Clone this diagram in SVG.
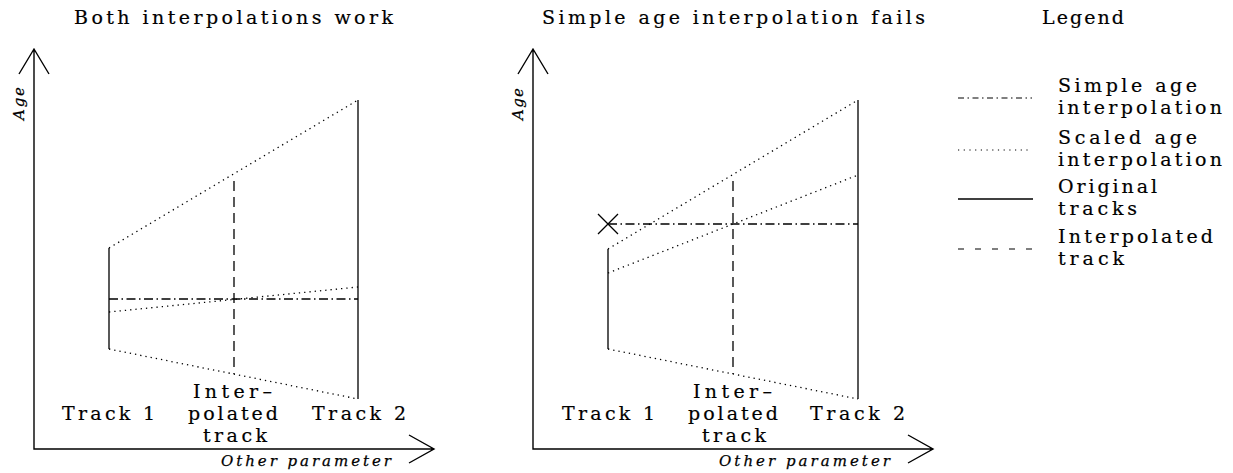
<svg xmlns="http://www.w3.org/2000/svg" width="1233" height="473" viewBox="0 0 1233 473">
<style>
.ax{fill:none;stroke:#000;stroke-width:1.4}
.solid{fill:none;stroke:#000;stroke-width:1.3}
.dot{fill:none;stroke:#000;stroke-width:1.3;stroke-dasharray:1.3 4}
.dash{fill:none;stroke:#000;stroke-width:1.3;stroke-dasharray:10 6}
.dd{fill:none;stroke:#000;stroke-width:1.3;stroke-dasharray:9 3.5 1.5 3.5}
.ldd{fill:none;stroke:#000;stroke-width:1.2;stroke-dasharray:6 3.5 1.5 3.5}
.ldot{fill:none;stroke:#000;stroke-width:1.2;stroke-dasharray:1.2 4.5}
.ldash{fill:none;stroke:#000;stroke-width:1.2;stroke-dasharray:6 11}
.t{font-family:"DejaVu Serif","Liberation Serif",serif;font-size:19px;fill:#000;stroke:#000;stroke-width:0.2}
.i{font-family:"DejaVu Serif","Liberation Serif",serif;font-style:italic;font-size:15px;fill:#000;stroke:#000;stroke-width:0.25}
</style>
<g id="panel1">
<path class="ax" d="M34 49 V449 H434 M19 74 L34 49 L49 74 M409 435 L434 449 L409 463"/>
<path class="solid" d="M109 248 V349 M358 100 V399"/>
<path class="dot" d="M109 248 L358 100 M109 349 L358 399 M109 312 L358 287"/>
<path class="dash" d="M234 181 V374"/>
<path class="dd" d="M109 299 H358"/>
<text class="t" x="74" y="24" textLength="319" lengthAdjust="spacing">Both interpolations work</text>
<text class="t" x="62" y="420" textLength="93" lengthAdjust="spacing">Track 1</text>
<text class="t" x="193" y="398" textLength="79" lengthAdjust="spacing">Inter–</text>
<text class="t" x="188" y="420" textLength="90" lengthAdjust="spacing">polated</text>
<text class="t" x="203" y="442" textLength="64" lengthAdjust="spacing">track</text>
<text class="t" x="312" y="420" textLength="94" lengthAdjust="spacing">Track 2</text>
<text class="i" transform="translate(24,120) rotate(-90)" textLength="33" lengthAdjust="spacing">Age</text>
<text class="i" x="221" y="466" textLength="170" lengthAdjust="spacing">Other parameter</text>
</g>
<g id="panel2">
<path class="ax" d="M533 49 V449 H933 M518 74 L533 49 L548 74 M908 435 L933 449 L908 463"/>
<path class="solid" d="M608 249 V349 M858 100 V399 M598 214 L618 234 M598 234 L618 214"/>
<path class="dot" d="M608 249 L858 100 M608 349 L858 399 M608 273 L858 175"/>
<path class="dash" d="M733 181 V374"/>
<path class="dd" d="M608 224 H858"/>
<text class="t" x="542" y="24" textLength="383" lengthAdjust="spacing">Simple age interpolation fails</text>
<text class="t" x="562" y="420" textLength="93" lengthAdjust="spacing">Track 1</text>
<text class="t" x="693" y="398" textLength="79" lengthAdjust="spacing">Inter–</text>
<text class="t" x="688" y="420" textLength="90" lengthAdjust="spacing">polated</text>
<text class="t" x="702" y="442" textLength="64" lengthAdjust="spacing">track</text>
<text class="t" x="810" y="420" textLength="95" lengthAdjust="spacing">Track 2</text>
<text class="i" transform="translate(523,120) rotate(-90)" textLength="32" lengthAdjust="spacing">Age</text>
<text class="i" x="719" y="466" textLength="171" lengthAdjust="spacing">Other parameter</text>
</g>
<g id="legend">
<path class="ldd" d="M958 98 H1032"/>
<path class="ldot" d="M958 150 H1032"/>
<path class="solid" d="M958 199 H1033"/>
<path class="ldash" d="M958 249 H1033"/>
<text class="t" x="1042" y="24" textLength="82" lengthAdjust="spacing">Legend</text>
<text class="t" x="1058" y="92" textLength="139" lengthAdjust="spacing">Simple age</text>
<text class="t" x="1058" y="114" textLength="164" lengthAdjust="spacing">interpolation</text>
<text class="t" x="1058" y="144" textLength="139" lengthAdjust="spacing">Scaled age</text>
<text class="t" x="1058" y="166" textLength="164" lengthAdjust="spacing">interpolation</text>
<text class="t" x="1058" y="193" textLength="99" lengthAdjust="spacing">Original</text>
<text class="t" x="1058" y="215" textLength="79" lengthAdjust="spacing">tracks</text>
<text class="t" x="1058" y="243" textLength="155" lengthAdjust="spacing">Interpolated</text>
<text class="t" x="1058" y="265" textLength="66" lengthAdjust="spacing">track</text>
</g>
</svg>
